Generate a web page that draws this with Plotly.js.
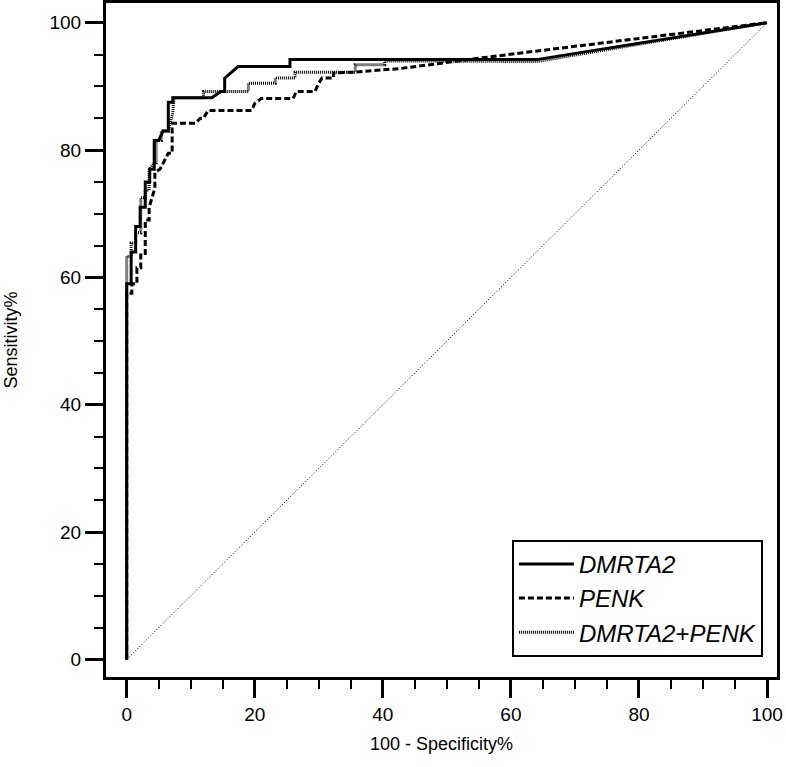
<!DOCTYPE html>
<html>
<head>
<meta charset="utf-8">
<script src="https://cdn.plot.ly/plotly-3.0.1.min.js"></script>
<style>html,body{margin:0;padding:0;background:#fff;}#chart{width:786px;height:767px;}</style>
</head>
<body>
<div id="chart"></div>
<script>
// Data (100 - Specificity%, Sensitivity%)
const seriesNames = ["DMRTA2", "PENK", "DMRTA2+PENK"];

const dmrta2X = [0, 0, 0.7, 0.7, 1.4, 1.4, 2.1, 2.1, 2.9, 2.9, 3.6, 3.6, 4.3, 4.3, 5.0, 5.7, 6.5, 6.5, 7.2, 7.2, 13.3, 14.7, 15.3, 15.3, 17.4, 25.5, 25.5, 64, 100];
const dmrta2Y = [0, 59, 59, 64, 64, 68, 68, 71, 71, 75, 75, 77, 77, 81.5, 81.5, 83, 83, 87.5, 87.5, 88.2, 88.2, 89.2, 89.2, 91.3, 93.1, 93.1, 94.2, 94.2, 100];

const penkX = [0, 0, 0.8, 0.8, 1.6, 1.6, 2.2, 2.2, 2.9, 2.9, 3.5, 3.5, 4.4, 4.4, 5.2, 6.5, 7.1, 7.1, 10.7, 11.5, 12.0, 12.7, 19.5, 20.0, 21.0, 26.0, 26.5, 29.4, 30.0, 30.5, 32.3, 32.3, 35.0, 42.7, 48.9, 54.0, 100];
const penkY = [0, 57.5, 57.5, 59, 59, 61.5, 61.5, 63.5, 63.5, 69, 69, 71, 74, 76.5, 77, 79.5, 79.5, 84.2, 84.2, 85, 85, 86.2, 86.2, 87.3, 88.1, 88.1, 89.2, 89.2, 90.5, 91.3, 91.3, 92.1, 92.2, 92.8, 93.6, 94.3, 100];

const comboX = [0, 0, 0.7, 0.7, 1.4, 1.4, 2.2, 2.2, 2.9, 2.9, 3.5, 3.5, 4.3, 4.6, 4.6, 5.4, 5.4, 6.5, 7.2, 7.4, 7.4, 12.0, 12.0, 19.0, 19.0, 23.2, 23.2, 26.3, 26.3, 35.7, 35.7, 40.3, 40.3, 64, 100];
const comboY = [0, 63.3, 63.3, 65.4, 65.4, 67, 67, 72.5, 72.5, 73.7, 73.7, 76.9, 78, 78, 81.5, 81.5, 83, 83, 85.8, 87.6, 88.2, 88.2, 89.2, 89.2, 90.5, 90.5, 91.3, 91.3, 92.2, 92.2, 93.4, 93.4, 94.0, 93.9, 100];

const refX = [0, 100];
const refY = [0, 100];

const xTicks = [0, 20, 40, 60, 80, 100];
const yTicks = [0, 20, 40, 60, 80, 100];

const traces = [
  {x: dmrta2X, y: dmrta2Y, name: seriesNames[0], mode: "lines", line: {color: "#000", width: 3, dash: "solid"}},
  {x: penkX, y: penkY, name: seriesNames[1], mode: "lines", line: {color: "#000", width: 3, dash: "6px,3px"}},
  {x: comboX, y: comboY, name: seriesNames[2], mode: "lines", line: {color: "#000", width: 3, dash: "1px,1px"}},
  {x: refX, y: refY, mode: "lines", showlegend: false, line: {color: "#000", width: 1, dash: "1px,2px"}}
];

const fontFam = "Liberation Sans, Arial, sans-serif";

const layout = {
  width: 786, height: 767,
  margin: {l: 106, r: 9, t: 3, b: 90},
  paper_bgcolor: "#fff", plot_bgcolor: "#fff",
  font: {family: fontFam, color: "#000"},
  showlegend: true,
  legend: {
    x: 0.979, xanchor: "right", y: 0.03, yanchor: "bottom",
    bordercolor: "#000", borderwidth: 2, bgcolor: "#fff",
    font: {family: fontFam, size: 24, style: "italic", color: "#000"},
    itemwidth: 55
  },
  xaxis: {
    range: [-3.23, 101.56], showgrid: false, zeroline: false,
    showline: true, linewidth: 3, linecolor: "#000", mirror: true,
    ticks: "outside", ticklen: 18, tickwidth: 3, tickcolor: "#000",
    tickvals: xTicks, ticktext: xTicks.map(String),
    tickfont: {size: 19, family: fontFam},
    minor: {dtick: 5, tick0: 0, ticks: "outside", ticklen: 9, tickwidth: 2, tickcolor: "#000", showgrid: false},
    title: {text: "100 - Specificity%", font: {size: 18, family: fontFam}, standoff: 14}
  },
  yaxis: {
    range: [-2.75, 103.09], showgrid: false, zeroline: false,
    showline: true, linewidth: 3, linecolor: "#000", mirror: true,
    ticks: "outside", ticklen: 18, tickwidth: 3, tickcolor: "#000",
    tickvals: yTicks, ticktext: yTicks.map(String),
    tickfont: {size: 19, family: fontFam},
    minor: {dtick: 5, tick0: 0, ticks: "outside", ticklen: 9, tickwidth: 2, tickcolor: "#000", showgrid: false},
    title: {text: "Sensitivity%", font: {size: 18, family: fontFam}, standoff: 28}
  }
};

Plotly.newPlot("chart", traces, layout, {displayModeBar: false, staticPlot: true});
</script>
</body>
</html>
